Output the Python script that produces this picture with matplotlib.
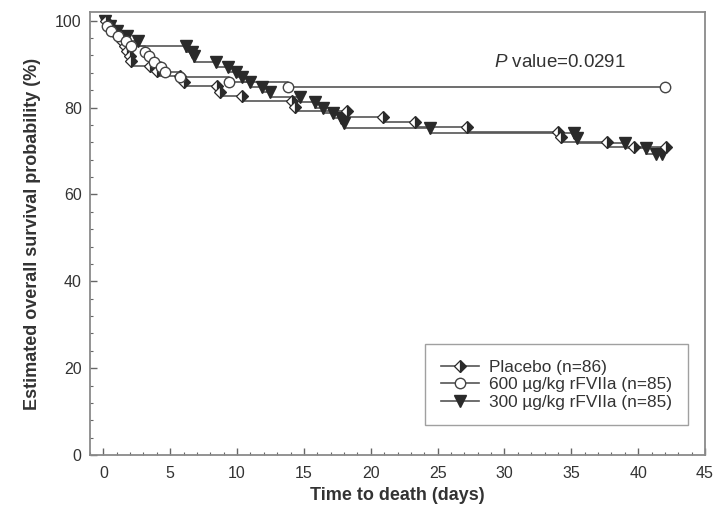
import matplotlib
matplotlib.use("Agg")
import matplotlib.pyplot as plt
from matplotlib.lines import Line2D
from matplotlib.ticker import MultipleLocator

plt.rcParams['font.family'] = ['Liberation Sans', 'DejaVu Sans']
plt.rcParams['mathtext.fontset'] = 'custom'
plt.rcParams['mathtext.it'] = 'Liberation Sans:italic'
plt.rcParams['mathtext.rm'] = 'Liberation Sans'

# ── Kaplan-Meier steps (day, survival % after the drop) ──
placebo_t = [0.2, 0.5, 0.8, 1.1, 1.4, 1.6, 1.8, 2.0, 2.1, 3.5, 4.0, 5.7, 6.0,
             8.5, 8.7, 10.4, 14.1, 14.3, 18.2, 20.9, 23.3, 27.2, 34.0, 34.2,
             37.7, 39.7, 42.1]
placebo_s = [98.8, 97.7, 96.5, 95.3, 94.2, 93.0, 91.9, 90.7, 89.5, 88.4, 87.2,
             86.0, 84.9, 83.7, 82.6, 81.4, 80.2, 79.1, 77.9, 76.7, 75.6, 74.4,
             73.3, 72.1, 70.9, 70.9, 70.9]

hi_t = [0.3, 0.6, 1.1, 1.7, 2.1, 3.1, 3.4, 3.8, 4.3, 4.6, 5.7, 9.4, 13.8, 42.0]
hi_s = [98.8, 97.6, 96.5, 95.3, 94.1, 92.9, 91.8, 90.6, 89.4, 88.2, 87.1,
        85.9, 84.7, 84.7]

lo_t = [0.1, 0.5, 1.0, 1.8, 2.6, 6.2, 6.6, 6.8, 8.4, 9.3, 9.9, 10.4, 11.0,
        11.9, 12.5, 14.7, 15.8, 16.4, 17.2, 17.8, 18.0, 24.4, 35.2, 35.4,
        39.0, 40.6, 41.3, 41.8]
lo_s = [98.8, 97.6, 96.5, 95.3, 94.1, 92.9, 91.8, 90.6, 89.4, 88.2, 87.1,
        85.9, 84.7, 83.5, 82.4, 81.2, 80.0, 78.8, 77.6, 76.5, 75.3, 74.1,
        72.9, 71.8, 70.6, 69.4, 69.4, 69.4]

labels = ['Placebo (n=86)', '600 \u00b5g/kg rFVIIa (n=85)', '300 \u00b5g/kg rFVIIa (n=85)']
p_text = r'$P$ value=0.0291'

LC = '#555555'

fig = plt.figure(figsize=(7.17, 5.23), dpi=100)
ax = fig.add_axes([0.1255, 0.130, 0.8578, 0.847])


def km_line(t, s):
    ax.step([0] + t, [100] + s, where='post', color=LC, lw=1.2, zorder=2)


# 300 µg/kg: filled down triangles (drawn at the top of each drop)
km_line(lo_t, lo_s)
ax.plot(lo_t, [100] + lo_s[:-1], ls='none', marker='v', ms=8,
        mfc='#2a2a2a', mec='#2a2a2a', zorder=3)

# Placebo: half-filled diamonds
km_line(placebo_t, placebo_s)
ax.plot(placebo_t, [100] + placebo_s[:-1], ls='none', marker='D', ms=6.5,
        fillstyle='right', mfc='#2a2a2a', mfcalt='white', mec='#2a2a2a',
        mew=0.9, zorder=4)

# 600 µg/kg: open circles
km_line(hi_t, hi_s)
ax.plot(hi_t, hi_s, ls='none', marker='o', ms=7.5, mfc='white',
        mec='#444444', mew=1.0, zorder=5)

ax.set_xlim(-1, 45)
ax.set_ylim(0, 102)
ax.xaxis.set_major_locator(MultipleLocator(5))
ax.xaxis.set_minor_locator(MultipleLocator(1))
ax.yaxis.set_major_locator(MultipleLocator(20))
ax.yaxis.set_minor_locator(MultipleLocator(4))
ax.tick_params(which='both', direction='in', color='#666666', labelcolor='#333333',
               labelsize=11.5)
ax.tick_params(which='major', length=5, width=1.0, pad=8)
ax.tick_params(which='minor', length=2.5, width=0.8)
ax.tick_params(axis='y', pad=6)
for sp in ax.spines.values():
    sp.set_color('#8a8a8a')
    sp.set_linewidth(1.3)

ax.set_xlabel('Time to death (days)', fontsize=13, fontweight='bold',
              color='#333333', labelpad=4)
ax.set_ylabel('Estimated overall survival probability (%)', fontsize=13,
              fontweight='bold', color='#333333', labelpad=10)

ax.text(29.2, 90.4, p_text, fontsize=13.5, color='#333333',
        va='center', ha='left')

handles = [
    Line2D([], [], color=LC, lw=1.2, marker='D', ms=6.5, fillstyle='right',
           mfc='#2a2a2a', mfcalt='white', mec='#2a2a2a', mew=0.9),
    Line2D([], [], color=LC, lw=1.2, marker='o', ms=7.5, mfc='white',
           mec='#444444'),
    Line2D([], [], color=LC, lw=1.2, marker='v', ms=8, mfc='#2a2a2a',
           mec='#2a2a2a'),
]
leg = ax.legend(handles, labels, loc='lower right', bbox_to_anchor=(0.98, 0.055),
                fontsize=12.4, frameon=True, fancybox=False, edgecolor='#888888',
                handlelength=2.2, handletextpad=0.6, labelspacing=0.15,
                borderpad=0.9, borderaxespad=0.3, labelcolor='#333333')
leg.get_frame().set_linewidth(1.0)

fig.savefig('out.png', dpi=100)
